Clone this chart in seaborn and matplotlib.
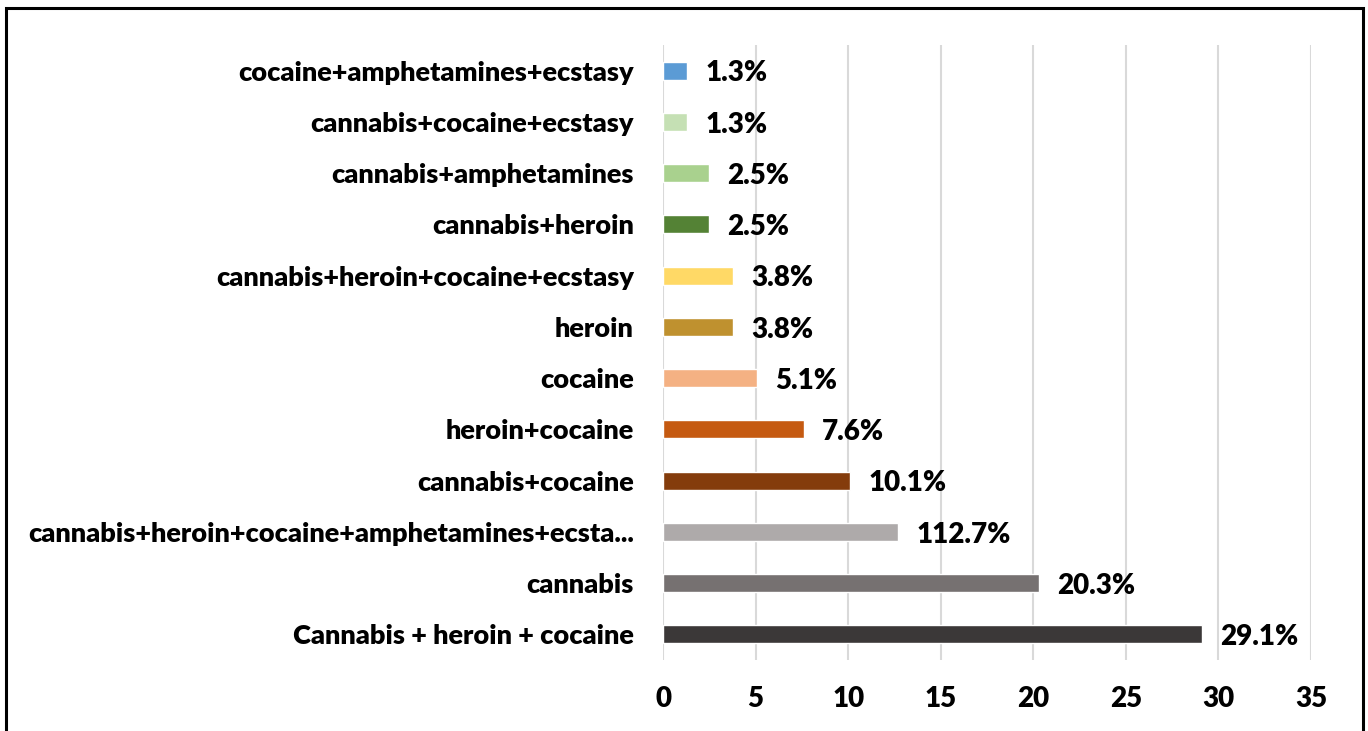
import matplotlib
matplotlib.use("Agg")
import matplotlib.pyplot as plt
import seaborn as sns
import pandas as pd
from matplotlib.patches import Rectangle

categories = [
    "cocaine+amphetamines+ecstasy",
    "cannabis+cocaine+ecstasy",
    "cannabis+amphetamines",
    "cannabis+heroin",
    "cannabis+heroin+cocaine+ecstasy",
    "heroin",
    "cocaine",
    "heroin+cocaine",
    "cannabis+cocaine",
    "cannabis+heroin+cocaine+amphetamines+ecsta...",
    "cannabis",
    "Cannabis + heroin + cocaine",
]
values = [1.3, 1.3, 2.5, 2.5, 3.8, 3.8, 5.1, 7.6, 10.1, 12.7, 20.3, 29.1]
value_labels = ["1.3%", "1.3%", "2.5%", "2.5%", "3.8%", "3.8%", "5.1%",
                "7.6%", "10.1%", "112.7%", "20.3%", "29.1%"]
colors = ["#5B9BD5", "#C5E0B4", "#A9D18E", "#548235", "#FFD966", "#BF912F",
          "#F4B183", "#C55A11", "#843C0C", "#AEAAAA", "#767171", "#3B3838"]
xticks = [0, 5, 10, 15, 20, 25, 30, 35]

sns.set_theme(style="white")
plt.rcParams["font.family"] = ["Lato", "DejaVu Sans"]

df = pd.DataFrame({"category": categories, "value": values})

fig = plt.figure(figsize=(13.68, 7.31), dpi=100)
ax = fig.add_axes([663 / 1368, 1 - 660 / 731, (1311 - 663) / 1368, (660 - 45) / 731])

sns.barplot(data=df, x="value", y="category", hue="category", order=categories,
            hue_order=categories, palette=colors, orient="h", width=0.35,
            legend=False, ax=ax, saturation=1)

ax.set_xlim(0, 35)
ax.set_ylim(11.5, -0.5)
ax.set_xticks(xticks)
ax.set_xticklabels([str(t) for t in xticks])
ax.xaxis.grid(True, color="#D9D9D9", linewidth=1.5)
ax.set_axisbelow(True)
for s in ax.spines.values():
    s.set_visible(False)
ax.set_xlabel("")
ax.set_ylabel("")
ax.tick_params(axis="y", length=0, pad=21, labelsize=19.5)
ax.tick_params(axis="x", length=0, pad=19, labelsize=20)
for lab in ax.get_yticklabels() + ax.get_xticklabels():
    lab.set_fontweight("heavy")
    lab.set_color("black")

for i, (v, t) in enumerate(zip(values, value_labels)):
    ax.annotate(t, xy=(v, i), xytext=(13, -2), textcoords="offset points",
                ha="left", va="center", fontsize=20, fontweight="heavy",
                color="black")

fig.patches.append(Rectangle((6 / 1368, -0.05), (1363 - 6) / 1368, 1.05 - 8 / 731,
                             transform=fig.transFigure, fill=False,
                             edgecolor="black", linewidth=2.2))

fig.savefig("out.png", dpi=100, facecolor="white")
